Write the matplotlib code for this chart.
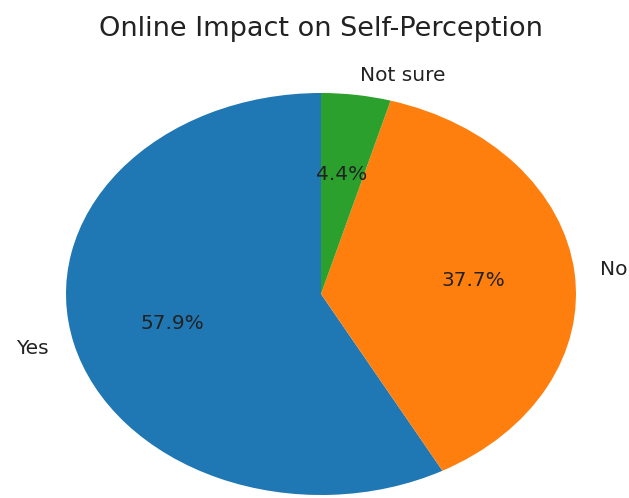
import matplotlib
matplotlib.use("Agg")
import matplotlib.pyplot as plt

labels = ["Yes", "No", "Not sure"]
values = [57.9, 37.7, 4.4]
colors = ["#1f77b4", "#ff7f0e", "#2ca02c"]
title = "Online Impact on Self-Perception"

fig = plt.figure(figsize=(6.29, 4.98), dpi=100)
W, H = 629, 498
cx, cy = 321, 294
rx, ry = 255, 201
ax = fig.add_axes([(cx - 1.25 * rx) / W, (H - cy - 1.25 * ry) / H, 2.5 * rx / W, 2.5 * ry / H])
wedges, texts, autotexts = ax.pie(values, labels=labels, colors=colors, autopct="%1.1f%%",
                                  startangle=90, textprops={"fontsize": 14.5, "color": "#222222"})
ax.set_aspect("auto")
ax.set_xlim(-1.25, 1.25)
ax.set_ylim(-1.25, 1.25)
fig.text(cx / W, 1 - 29 / H, title, ha="center", va="center", fontsize=19.5, color="#222222")
fig.savefig("out.png", dpi=100)
